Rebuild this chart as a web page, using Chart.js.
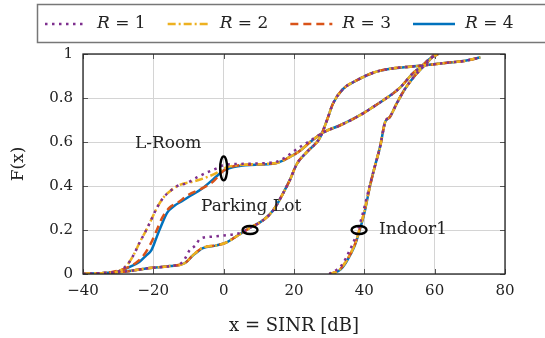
<!DOCTYPE html>
<html>
<head>
<meta charset="utf-8">
<script src="https://cdn.jsdelivr.net/npm/chart.js@4/dist/chart.umd.min.js"></script>
<style>
  html, body { margin: 0; padding: 0; background: #fff; }
  #wrap { width: 545px; height: 338px; }
</style>
</head>
<body>
<div id="wrap"><canvas id="cdf" width="545" height="338"></canvas></div>
<script>
// axis ticks
const xTicks = [-40, -20, 0, 20, 40, 60, 80];
const yTicks = [0, 0.2, 0.4, 0.6, 0.8, 1];
const rValues = ['1', '2', '3', '4'];

// L-Room
const lroomX1 = [-40, -34, -30, -27.5, -25.5, -24, -22, -20.5, -19, -17, -15, -12.5, -11, -7.5, -5, -2, 0, 4, 15, 18, 21, 25, 28.5, 33, 38, 44, 50, 54, 56, 58.7, 61];
const lroomF1 = [0, 0.004, 0.012, 0.04, 0.09, 0.14, 0.2, 0.25, 0.3, 0.35, 0.38, 0.405, 0.41, 0.44, 0.46, 0.48, 0.495, 0.5, 0.51, 0.535, 0.57, 0.61, 0.645, 0.675, 0.715, 0.775, 0.845, 0.915, 0.94, 0.98, 1];
const lroomX2 = [-40, -34, -30, -27.5, -25.5, -24, -22, -20.5, -19, -17, -15, -12.5, -8.7, -4.8, -2, 0, 4, 15, 18, 21.7, 24.6, 28.5, 33, 38, 44, 50, 54, 56, 58.7, 61];
const lroomF2 = [0, 0.004, 0.012, 0.04, 0.09, 0.14, 0.2, 0.25, 0.3, 0.35, 0.38, 0.405, 0.42, 0.44, 0.46, 0.48, 0.495, 0.505, 0.525, 0.56, 0.6, 0.645, 0.675, 0.715, 0.775, 0.845, 0.915, 0.94, 0.98, 1];
const lroomX3 = [-40, -35, -32, -28, -25, -23, -21, -19, -17.5, -15.5, -13, -10, -6, -3, 0, 4, 15, 18, 21.7, 24.6, 28.5, 33, 38, 44, 50, 54, 56, 58.7, 61];
const lroomF3 = [0, 0.003, 0.008, 0.025, 0.05, 0.08, 0.13, 0.2, 0.255, 0.3, 0.325, 0.36, 0.39, 0.42, 0.47, 0.493, 0.505, 0.525, 0.56, 0.6, 0.645, 0.675, 0.715, 0.775, 0.845, 0.915, 0.94, 0.98, 1];
const lroomX4 = [-40, -35, -30, -27, -24, -22, -20.5, -19, -18, -16, -14, -12, -10, -6, -3, 0, 4, 15, 18, 21.7, 24.6, 28.5, 33, 38, 44, 50, 54, 56, 58.7, 61];
const lroomF4 = [0, 0.003, 0.012, 0.03, 0.055, 0.085, 0.11, 0.17, 0.21, 0.28, 0.31, 0.33, 0.35, 0.39, 0.43, 0.47, 0.49, 0.505, 0.525, 0.56, 0.6, 0.645, 0.675, 0.715, 0.775, 0.845, 0.915, 0.94, 0.98, 1];

// Parking Lot
const parkX1 = [-40, -34, -28.6, -21, -15.3, -12, -11, -9.6, -8, -6.7, -3, 0, 4.6, 7.5, 11.3, 14.1, 17, 18.9, 20.8, 23.7, 27.4, 29.4, 31.1, 33.9, 37.8, 42.5, 47.3, 55, 63.5, 69, 73];
const parkF1 = [0, 0.004, 0.01, 0.027, 0.036, 0.05, 0.07, 0.11, 0.13, 0.16, 0.17, 0.175, 0.186, 0.21, 0.245, 0.29, 0.37, 0.43, 0.5, 0.555, 0.62, 0.7, 0.775, 0.84, 0.88, 0.915, 0.933, 0.945, 0.96, 0.97, 0.985];
const parkX2 = [-40, -34, -28.6, -21, -15.3, -11, -8.7, -5.9, -2, 1, 4, 7.5, 11.3, 14.1, 17, 18.9, 20.8, 23.7, 27.4, 29.4, 31.1, 33.9, 37.8, 42.5, 47.3, 55, 63.5, 69, 73];
const parkF2 = [0, 0.004, 0.01, 0.027, 0.036, 0.05, 0.086, 0.12, 0.13, 0.145, 0.175, 0.21, 0.245, 0.29, 0.37, 0.43, 0.5, 0.555, 0.62, 0.7, 0.775, 0.84, 0.88, 0.915, 0.933, 0.945, 0.96, 0.97, 0.985];
const parkX3 = [-40, -34, -28.6, -21, -15.3, -11, -8.7, -5.9, -2, 1, 4, 7.5, 11.3, 14.1, 17, 18.9, 20.8, 23.7, 27.4, 29.4, 31.1, 33.9, 37.8, 42.5, 47.3, 55, 63.5, 69, 73];
const parkF3 = [0, 0.004, 0.01, 0.027, 0.036, 0.05, 0.086, 0.12, 0.13, 0.145, 0.175, 0.21, 0.245, 0.29, 0.37, 0.43, 0.5, 0.555, 0.62, 0.7, 0.775, 0.84, 0.88, 0.915, 0.933, 0.945, 0.96, 0.97, 0.985];
const parkX4 = [-40, -34, -28.6, -21, -15.3, -11, -8.7, -5.9, -2, 1, 4, 7.5, 11.3, 14.1, 17, 18.9, 20.8, 23.7, 27.4, 29.4, 31.1, 33.9, 37.8, 42.5, 47.3, 55, 63.5, 69, 73];
const parkF4 = [0, 0.004, 0.01, 0.027, 0.036, 0.05, 0.085, 0.118, 0.13, 0.145, 0.175, 0.21, 0.245, 0.29, 0.37, 0.43, 0.5, 0.555, 0.62, 0.7, 0.775, 0.84, 0.88, 0.915, 0.933, 0.945, 0.96, 0.97, 0.985];

// Indoor1
const indoorX1 = [30, 30.6, 32.2, 34, 35.6, 36.8, 38.2, 39.8, 41.5, 43, 44.5, 45.9, 47.3, 49.2, 51.5, 54.3, 56.6, 58.7, 60];
const indoorF1 = [0, 0.005, 0.02, 0.05, 0.1, 0.14, 0.2, 0.29, 0.4, 0.49, 0.58, 0.69, 0.715, 0.775, 0.84, 0.9, 0.94, 0.975, 1];
const indoorX2 = [30, 31.2, 33, 34.5, 36, 37.2, 38.6, 40.1, 41.6, 43, 44.5, 45.9, 47.3, 49.2, 51.5, 54.3, 56.6, 58.7, 60];
const indoorF2 = [0, 0.005, 0.02, 0.05, 0.09, 0.13, 0.2, 0.29, 0.4, 0.49, 0.58, 0.69, 0.715, 0.775, 0.84, 0.9, 0.94, 0.975, 1];
const indoorX3 = [30, 31.2, 33, 34.5, 36, 37.2, 38.6, 40.1, 41.6, 43, 44.5, 45.9, 47.3, 49.2, 51.5, 54.3, 56.6, 58.7, 60];
const indoorF3 = [0, 0.005, 0.02, 0.05, 0.09, 0.13, 0.2, 0.29, 0.4, 0.49, 0.58, 0.69, 0.715, 0.775, 0.84, 0.9, 0.94, 0.975, 1];
const indoorX4 = [30, 31.4, 33.2, 34.7, 36.1, 37.3, 38.7, 40.2, 41.6, 43, 44.5, 45.9, 47.3, 49.2, 51.5, 54.3, 56.6, 58.7, 60];
const indoorF4 = [0, 0.005, 0.02, 0.05, 0.09, 0.13, 0.2, 0.29, 0.4, 0.49, 0.58, 0.69, 0.715, 0.775, 0.84, 0.9, 0.94, 0.975, 1];

// scenario labels and the marker ellipses (data units)
const noteText = ['L-Room', 'Parking Lot', 'Indoor1'];
const noteX = [-15.8, 7.8, 44.2];
const noteF = [0.595, 0.305, 0.2];
const ringX = [0, 7.5, 38.5];
const ringF = [0.48, 0.2, 0.2];

// styles per R
const rColor = ['#7E2F8E', '#EDB120', '#D95319', '#0072BD'];
const rDash = [[2.5, 4.5], [8, 3, 2, 3], [8, 5], []];
const noteAlign = ['center', 'center', 'left'];
const ringSize = [[3.5, 12], [7.5, 4], [7.5, 4]];
const serif = '"DejaVu Serif", "Liberation Serif", serif';

const curves = [
  [lroomX1, lroomF1, lroomX2, lroomF2, lroomX3, lroomF3, lroomX4, lroomF4],
  [parkX1, parkF1, parkX2, parkF2, parkX3, parkF3, parkX4, parkF4],
  [indoorX1, indoorF1, indoorX2, indoorF2, indoorX3, indoorF3, indoorX4, indoorF4]
];

const datasets = [];
// R=1 first so that it is drawn on top (lower index = drawn last)
for (let r = 0; r < 4; r++) {
  curves.forEach((c, s) => {
    const xs = c[r * 2], fs = c[r * 2 + 1];
    datasets.push({
      label: 'R = ' + rValues[r],
      data: xs.map((x, i) => ({ x: x, y: fs[i] })),
      borderColor: rColor[r],
      borderWidth: 2.5,
      borderDash: rDash[r],
      pointRadius: 0,
      fill: false,
      cubicInterpolationMode: 'monotone'
    });
  });
}

const framePlugin = {
  id: 'frame',
  beforeDatasetsDraw(chart) {
    const { ctx, chartArea: a, scales } = chart;
    ctx.save();
    ctx.strokeStyle = '#555';
    ctx.lineWidth = 1;
    xTicks.forEach(v => {
      const px = Math.round(scales.x.getPixelForValue(v)) + 0.5;
      ctx.beginPath();
      ctx.moveTo(px, a.bottom); ctx.lineTo(px, a.bottom - 5);
      ctx.moveTo(px, a.top); ctx.lineTo(px, a.top + 5);
      ctx.stroke();
    });
    yTicks.forEach(v => {
      const py = Math.round(scales.y.getPixelForValue(v)) + 0.5;
      ctx.beginPath();
      ctx.moveTo(a.left, py); ctx.lineTo(a.left + 5, py);
      ctx.moveTo(a.right, py); ctx.lineTo(a.right - 5, py);
      ctx.stroke();
    });
    ctx.restore();
  },
  afterDatasetsDraw(chart) {
    const { ctx, chartArea: a, scales } = chart;
    ctx.save();
    ctx.strokeStyle = '#222';
    ctx.lineWidth = 1.3;
    ctx.strokeRect(a.left, a.top, a.right - a.left, a.bottom - a.top);

    // ellipses
    ctx.strokeStyle = '#000';
    ctx.lineWidth = 2.4;
    ringX.forEach((v, i) => {
      ctx.beginPath();
      ctx.ellipse(scales.x.getPixelForValue(v), scales.y.getPixelForValue(ringF[i]),
        ringSize[i][0], ringSize[i][1], 0, 0, Math.PI * 2);
      ctx.stroke();
    });

    // labels
    ctx.fillStyle = '#222';
    ctx.font = '17px ' + serif;
    ctx.textBaseline = 'middle';
    noteText.forEach((t, i) => {
      ctx.textAlign = noteAlign[i];
      ctx.fillText(t, scales.x.getPixelForValue(noteX[i]), scales.y.getPixelForValue(noteF[i]));
    });
    ctx.restore();
  },
  afterDraw(chart) {
    // legend box across the top
    const { ctx } = chart;
    ctx.save();
    ctx.strokeStyle = '#777';
    ctx.lineWidth = 1.5;
    ctx.strokeRect(37.5, 4.5, 600, 38);
    let x = 45;
    const y = 24;
    for (let r = 0; r < 4; r++) {
      ctx.strokeStyle = rColor[r];
      ctx.lineWidth = 2.5;
      ctx.setLineDash(rDash[r]);
      ctx.beginPath();
      ctx.moveTo(x, y); ctx.lineTo(x + 42, y);
      ctx.stroke();
      ctx.setLineDash([]);
      x += 52;
      ctx.fillStyle = '#222';
      ctx.textBaseline = 'middle';
      ctx.textAlign = 'left';
      ctx.font = 'italic 17px ' + serif;
      ctx.fillText('R', x, y);
      x += ctx.measureText('R').width;
      ctx.font = '17px ' + serif;
      const rest = ' = ' + rValues[r];
      ctx.fillText(rest, x, y);
      x += ctx.measureText(rest).width + 22;
    }
    ctx.restore();
  }
};

new Chart(document.getElementById('cdf'), {
  type: 'line',
  data: { datasets: datasets },
  options: {
    responsive: false,
    animation: false,
    devicePixelRatio: 1,
    layout: { padding: { top: 54, right: 40, left: 0, bottom: 0 } },
    plugins: { legend: { display: false }, tooltip: { enabled: false } },
    scales: {
      x: {
        type: 'linear', min: -40, max: 80,
        afterBuildTicks: s => { s.ticks = xTicks.map(v => ({ value: v })); },
        afterFit: s => { s.height = 64; },
        grid: { color: '#d4d4d4', drawTicks: false },
        border: { display: false },
        ticks: {
          color: '#222', padding: 8, font: { family: serif, size: 15 },
          callback: v => (v < 0 ? '\u2212' + Math.abs(v) : String(v))
        },
        title: {
          display: true, text: 'x = SINR [dB]', color: '#222',
          font: { family: serif, size: 18 }, padding: { top: 0, bottom: 1 }
        }
      },
      y: {
        type: 'linear', min: 0, max: 1,
        afterBuildTicks: s => { s.ticks = yTicks.map(v => ({ value: v })); },
        afterFit: s => { s.width = 83; },
        grid: { color: '#d4d4d4', drawTicks: false },
        border: { display: false },
        ticks: {
          color: '#222', padding: 10, font: { family: serif, size: 15 },
          callback: v => String(v)
        },
        title: {
          display: true, text: 'F(x)', color: '#222',
          font: { family: serif, size: 17 }, padding: { top: 8, bottom: 0 }
        }
      }
    }
  },
  plugins: [framePlugin]
});
</script>
</body>
</html>
